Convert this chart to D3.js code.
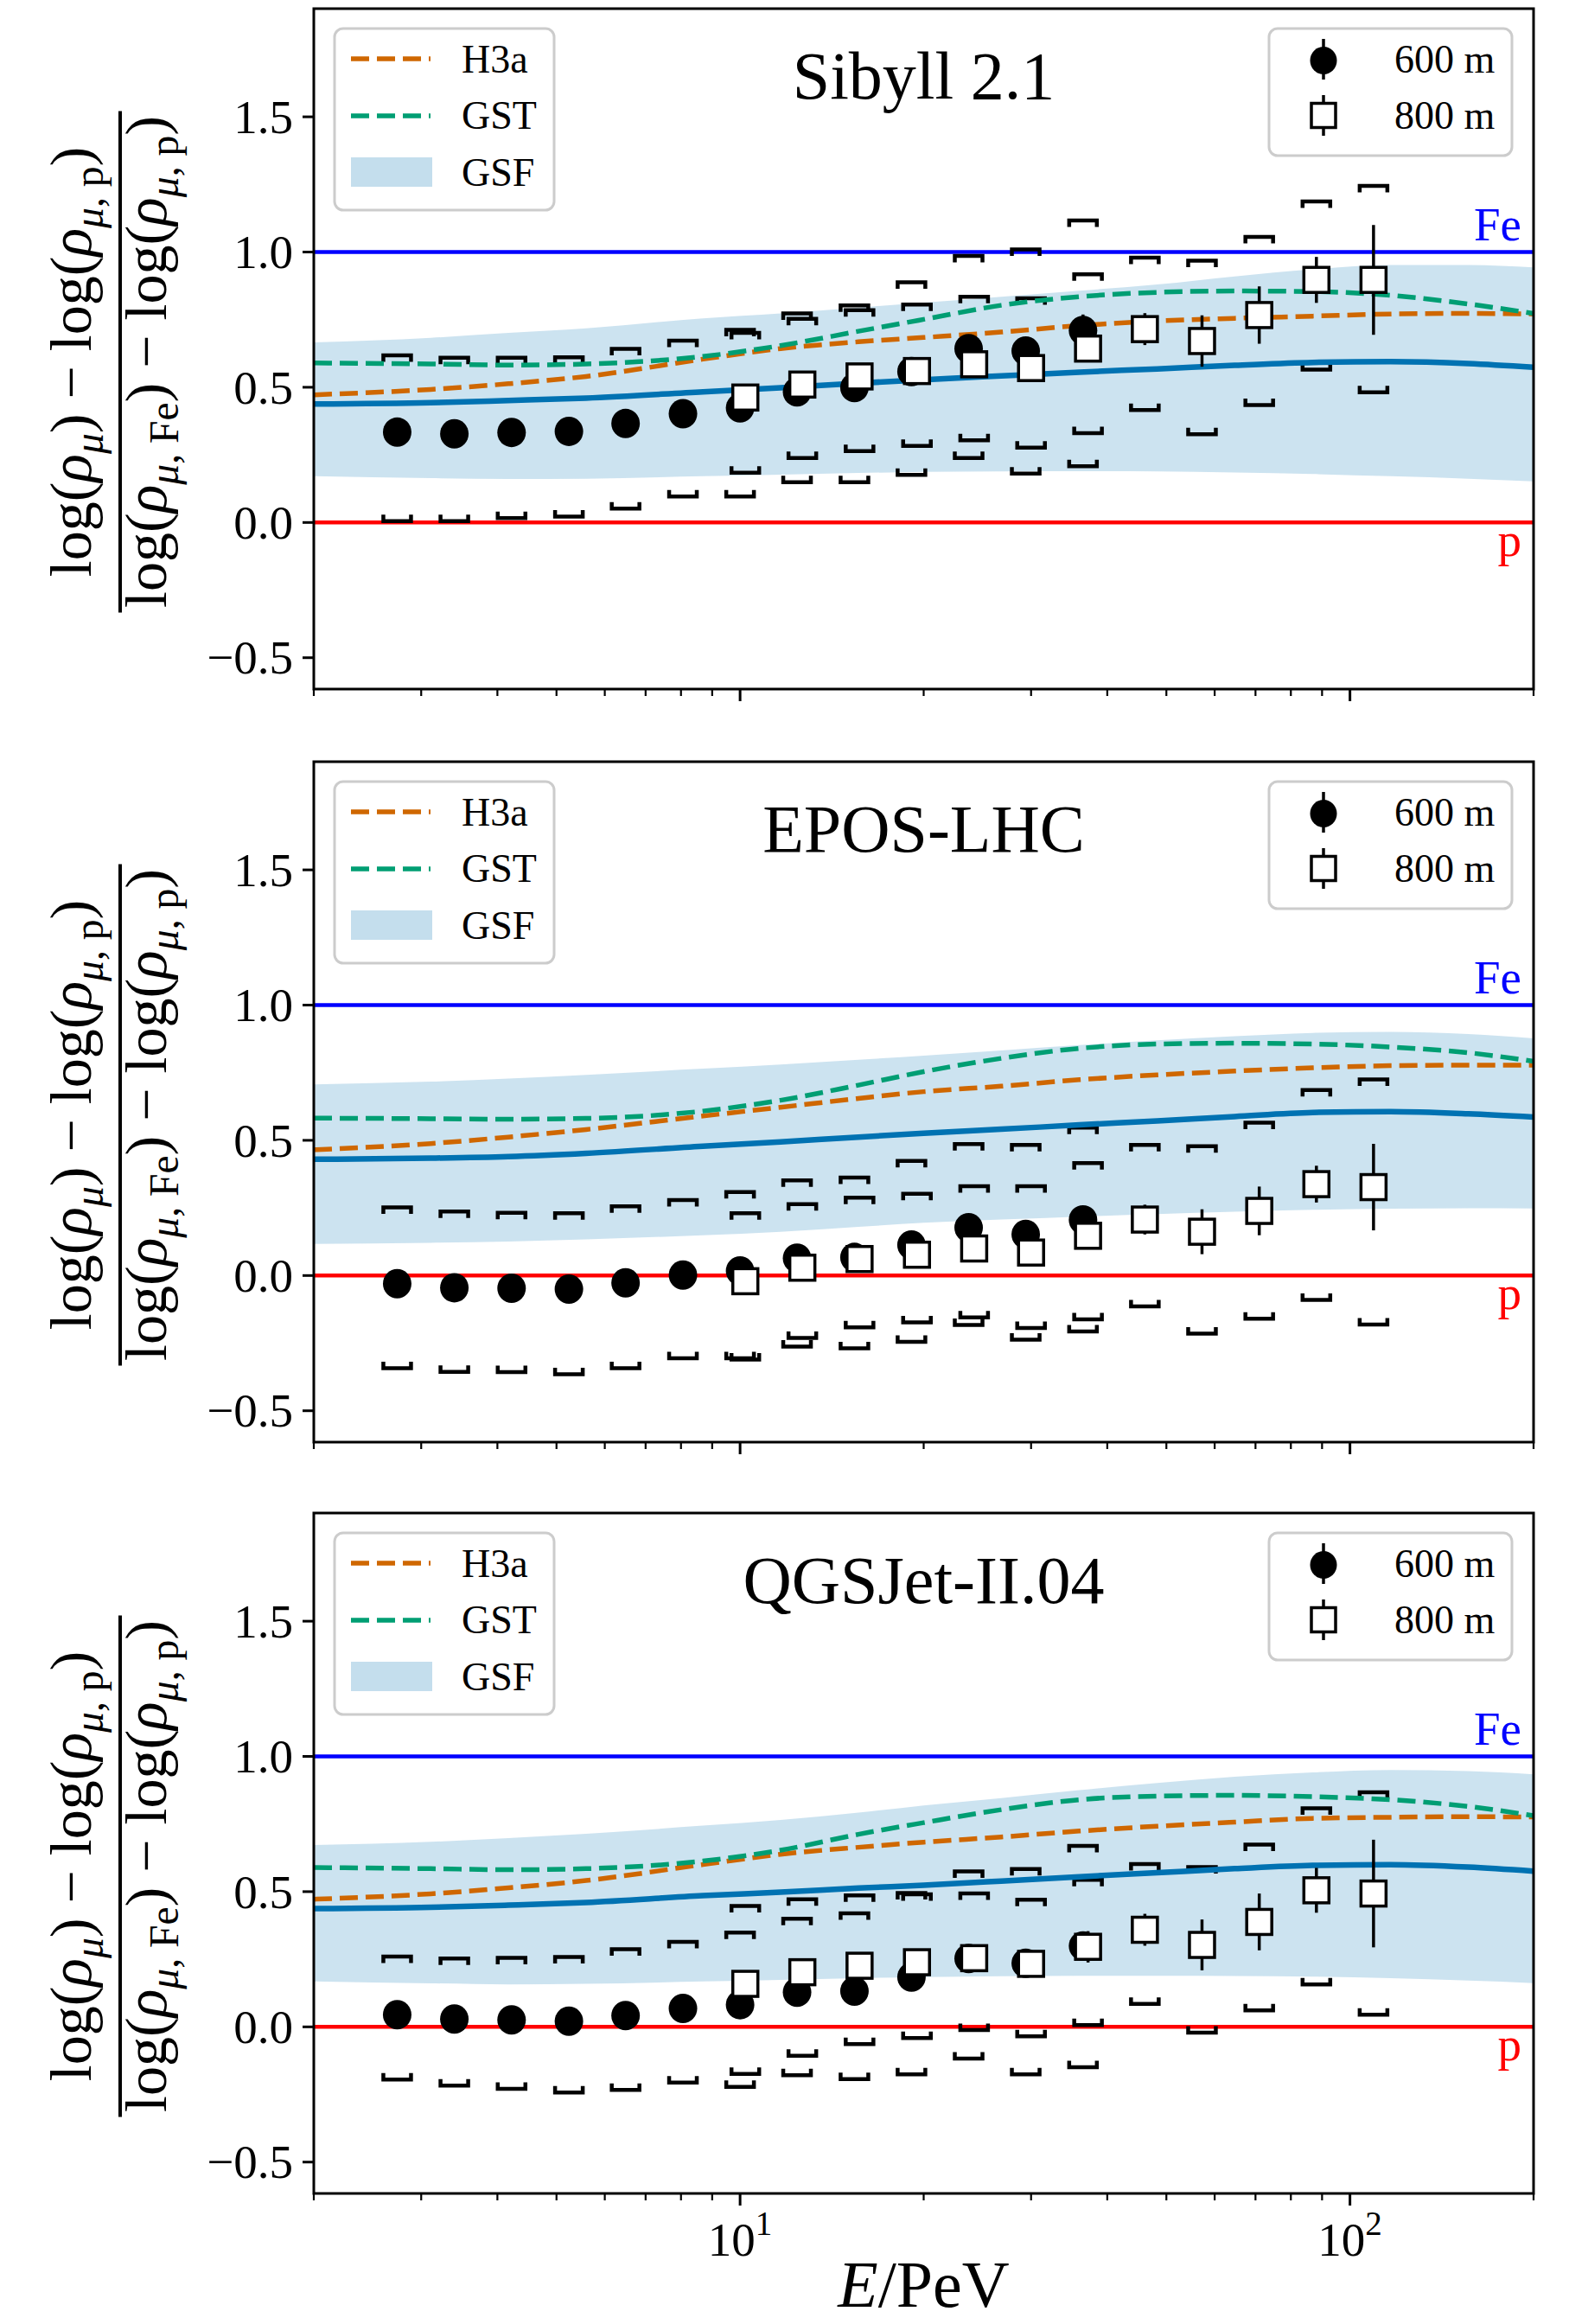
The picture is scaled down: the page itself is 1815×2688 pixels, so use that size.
<!DOCTYPE html>
<html>
<head>
<meta charset="utf-8">
<script src="https://cdn.jsdelivr.net/npm/d3@7"></script>
<style>
  html, body { margin: 0; padding: 0; background: #fff; }
  svg { display: block; }
</style>
</head>
<body>
<script>
// ---------------------------------------------------------------
// Muon-density composition estimator vs. primary energy,
// three hadronic interaction models.
// ---------------------------------------------------------------

// Energies (PeV) of the 600 m and 800 m reconstructions
const energy600 = [2.74, 3.40, 4.22, 5.24, 6.49, 8.06, 10.0, 12.4, 15.4, 19.1, 23.7, 29.4, 36.5];
const energy800 = [10.2, 12.65, 15.7, 19.5, 24.2, 30.0, 37.2, 46.1, 57.2, 71.0, 88.1, 109.3];

// Grid on which the model expectations are tabulated (PeV)
const curveEnergy = [2, 3.11, 4.17, 5.59, 8.69, 11.65, 15.63, 20, 26.8, 36.0, 48.3, 64.7, 86.9, 116.5, 156.3, 200];

// ---- Sibyll 2.1 ----
const sibyll600      = [0.334, 0.328, 0.333, 0.337, 0.366, 0.402, 0.424, 0.483, 0.499, 0.558, 0.643, 0.634, 0.710];
const sibyll600Err   = [0.01, 0.01, 0.01, 0.01, 0.01, 0.012, 0.014, 0.016, 0.02, 0.025, 0.03, 0.035, 0.059];
const sibyll600SysHi = [0.618, 0.609, 0.609, 0.611, 0.642, 0.672, 0.712, 0.773, 0.803, 0.888, 0.986, 1.010, 1.117];
const sibyll600SysLo = [0.005, 0.005, 0.016, 0.022, 0.051, 0.096, 0.096, 0.149, 0.149, 0.176, 0.238, 0.181, 0.208];
const sibyll800      = [0.462, 0.510, 0.540, 0.560, 0.585, 0.571, 0.643, 0.715, 0.671, 0.767, 0.897, 0.897];
const sibyll800Err   = [0.02, 0.02, 0.02, 0.02, 0.03, 0.03, 0.045, 0.059, 0.095, 0.106, 0.085, 0.203];
const sibyll800SysHi = [0.701, 0.753, 0.785, 0.806, 0.835, 0.829, 0.918, 0.979, 0.968, 1.056, 1.187, 1.245];
const sibyll800SysLo = [0.184, 0.238, 0.264, 0.283, 0.304, 0.277, 0.330, 0.416, 0.326, 0.434, 0.565, 0.481];
const sibyllGsfHi    = [0.666, 0.683, 0.701, 0.718, 0.755, 0.773, 0.795, 0.813, 0.835, 0.857, 0.880, 0.910, 0.936, 0.952, 0.952, 0.943];
const sibyllGsfLo    = [0.171, 0.164, 0.161, 0.162, 0.171, 0.177, 0.183, 0.187, 0.189, 0.190, 0.189, 0.185, 0.179, 0.171, 0.162, 0.152];
const sibyllGsf      = [0.438, 0.443, 0.451, 0.460, 0.483, 0.498, 0.515, 0.528, 0.542, 0.556, 0.568, 0.581, 0.592, 0.595, 0.588, 0.574];
const sibyllH3a      = [0.472, 0.492, 0.513, 0.540, 0.604, 0.643, 0.668, 0.684, 0.704, 0.728, 0.745, 0.755, 0.763, 0.771, 0.773, 0.771];
const sibyllGst      = [0.590, 0.586, 0.582, 0.586, 0.614, 0.654, 0.707, 0.751, 0.803, 0.835, 0.851, 0.856, 0.854, 0.840, 0.808, 0.773];

// ---- EPOS-LHC ----
const epos600      = [-0.030, -0.045, -0.047, -0.050, -0.027, 0.002, 0.017, 0.064, 0.067, 0.113, 0.177, 0.152, 0.206];
const epos600Err   = [0.01, 0.01, 0.01, 0.01, 0.01, 0.012, 0.014, 0.016, 0.02, 0.025, 0.03, 0.035, 0.045];
const epos600SysHi = [0.252, 0.237, 0.232, 0.230, 0.256, 0.279, 0.309, 0.352, 0.362, 0.424, 0.486, 0.483, 0.547];
const epos600SysLo = [-0.343, -0.356, -0.357, -0.365, -0.343, -0.306, -0.306, -0.263, -0.269, -0.245, -0.183, -0.237, -0.207];
const epos800      = [-0.021, 0.029, 0.061, 0.077, 0.100, 0.085, 0.147, 0.207, 0.162, 0.239, 0.338, 0.327];
const epos800Err   = [0.02, 0.02, 0.02, 0.02, 0.03, 0.03, 0.045, 0.055, 0.083, 0.09, 0.068, 0.16];
const epos800SysHi = [0.230, 0.264, 0.288, 0.302, 0.330, 0.330, 0.416, 0.483, 0.478, 0.565, 0.686, 0.725];
const epos800SysLo = [-0.311, -0.231, -0.192, -0.173, -0.155, -0.194, -0.162, -0.114, -0.215, -0.160, -0.090, -0.181];
const eposGsfHi    = [0.707, 0.717, 0.728, 0.742, 0.765, 0.780, 0.798, 0.813, 0.832, 0.852, 0.870, 0.885, 0.897, 0.901, 0.893, 0.877];
const eposGsfLo    = [0.117, 0.121, 0.126, 0.134, 0.149, 0.162, 0.180, 0.195, 0.207, 0.218, 0.227, 0.236, 0.243, 0.247, 0.249, 0.248];
const eposGsf      = [0.430, 0.434, 0.440, 0.452, 0.478, 0.494, 0.512, 0.526, 0.541, 0.557, 0.572, 0.588, 0.603, 0.606, 0.598, 0.586];
const eposH3a      = [0.465, 0.488, 0.512, 0.540, 0.590, 0.622, 0.655, 0.680, 0.700, 0.724, 0.742, 0.756, 0.768, 0.776, 0.778, 0.778];
const eposGst      = [0.582, 0.580, 0.578, 0.581, 0.608, 0.648, 0.704, 0.754, 0.803, 0.840, 0.856, 0.859, 0.856, 0.845, 0.824, 0.792];

// ---- QGSJet-II.04 ----
const qgsjet600      = [0.045, 0.029, 0.026, 0.021, 0.042, 0.068, 0.082, 0.128, 0.132, 0.184, 0.253, 0.235, 0.299];
const qgsjet600Err   = [0.01, 0.01, 0.01, 0.01, 0.01, 0.012, 0.014, 0.016, 0.02, 0.025, 0.03, 0.035, 0.045];
const qgsjet600SysHi = [0.260, 0.253, 0.255, 0.258, 0.287, 0.314, 0.349, 0.400, 0.420, 0.495, 0.575, 0.584, 0.669];
const qgsjet600SysLo = [-0.195, -0.217, -0.229, -0.243, -0.233, -0.206, -0.222, -0.179, -0.193, -0.176, -0.117, -0.176, -0.149];
const qgsjet800      = [0.159, 0.202, 0.226, 0.239, 0.254, 0.233, 0.296, 0.359, 0.303, 0.388, 0.505, 0.493];
const qgsjet800Err   = [0.02, 0.02, 0.02, 0.02, 0.03, 0.03, 0.058, 0.059, 0.094, 0.105, 0.083, 0.199];
const qgsjet800SysHi = [0.447, 0.472, 0.486, 0.490, 0.493, 0.470, 0.544, 0.602, 0.591, 0.674, 0.808, 0.867];
const qgsjet800SysLo = [-0.174, -0.107, -0.064, -0.041, -0.012, -0.035, 0.007, 0.085, -0.021, 0.061, 0.157, 0.045];
const qgsjetGsfHi    = [0.672, 0.684, 0.698, 0.714, 0.744, 0.765, 0.792, 0.819, 0.846, 0.875, 0.902, 0.925, 0.941, 0.950, 0.946, 0.934];
const qgsjetGsfLo    = [0.168, 0.161, 0.157, 0.159, 0.168, 0.174, 0.180, 0.184, 0.187, 0.189, 0.189, 0.188, 0.186, 0.180, 0.171, 0.162];
const qgsjetGsf      = [0.437, 0.442, 0.450, 0.460, 0.485, 0.498, 0.513, 0.524, 0.539, 0.555, 0.570, 0.585, 0.597, 0.600, 0.591, 0.576];
const qgsjetH3a      = [0.472, 0.492, 0.514, 0.541, 0.600, 0.638, 0.664, 0.683, 0.702, 0.724, 0.742, 0.757, 0.771, 0.775, 0.777, 0.776];
const qgsjetGst      = [0.589, 0.585, 0.581, 0.585, 0.613, 0.653, 0.712, 0.755, 0.803, 0.840, 0.853, 0.856, 0.851, 0.840, 0.815, 0.781];

// Axis ticks and labels
const yTicks = [-0.5, 0.0, 0.5, 1.0, 1.5];
const xMajorTicks = [10, 100];
const xMajorExponents = ["1", "2"];
const xMinorTicks = [2, 3, 4, 5, 6, 7, 8, 9, 20, 30, 40, 50, 60, 70, 80, 90, 200];
const legendModels = ["H3a", "GST", "GSF"];
const legendData = ["600 m", "800 m"];

const panels = [
  { title: "Sibyll 2.1",
    d600: sibyll600, e600: sibyll600Err, hi600: sibyll600SysHi, lo600: sibyll600SysLo,
    d800: sibyll800, e800: sibyll800Err, hi800: sibyll800SysHi, lo800: sibyll800SysLo,
    gsfHi: sibyllGsfHi, gsfLo: sibyllGsfLo, gsf: sibyllGsf, h3a: sibyllH3a, gst: sibyllGst },
  { title: "EPOS-LHC",
    d600: epos600, e600: epos600Err, hi600: epos600SysHi, lo600: epos600SysLo,
    d800: epos800, e800: epos800Err, hi800: epos800SysHi, lo800: epos800SysLo,
    gsfHi: eposGsfHi, gsfLo: eposGsfLo, gsf: eposGsf, h3a: eposH3a, gst: eposGst },
  { title: "QGSJet-II.04",
    d600: qgsjet600, e600: qgsjet600Err, hi600: qgsjet600SysHi, lo600: qgsjet600SysLo,
    d800: qgsjet800, e800: qgsjet800Err, hi800: qgsjet800SysHi, lo800: qgsjet800SysLo,
    gsfHi: qgsjetGsfHi, gsfLo: qgsjetGsfLo, gsf: qgsjetGsf, h3a: qgsjetH3a, gst: qgsjetGst }
];

// ---------------- layout & style ----------------
const W = 1815, H = 2688;
const axLeft = 363, axRight = 1774, axH = 787;
const panelTops = [10, 881, 1750];
const serif = "'Liberation Serif', 'Times New Roman', serif";
const colH3a = "#cf6700", colGst = "#009E73", colGsf = "#0072B2";
const bandFill = "#0072B2", bandOpacity = 0.2;
const dash = "21,9";

const svg = d3.select("body").append("svg")
  .attr("width", W).attr("height", H)
  .attr("viewBox", `0 0 ${W} ${H}`);
svg.append("rect").attr("width", W).attr("height", H).attr("fill", "#fff");

const x = d3.scaleLog().domain([2, 200]).range([axLeft, axRight]);

// bracket-shaped systematic marker: end ticks point toward the data point
function bracketPath(cx, cy, dir) {
  const hw = 16, tick = 7.5;
  return `M${cx - hw},${cy + dir * tick}L${cx - hw},${cy}L${cx + hw},${cy}L${cx + hw},${cy + dir * tick}`;
}

// y-axis fraction label built from tspans (rotated)
function addFracLabel(g, cx, cy) {
  const fs = 68, sub = 0.7;
  const root = g.append("g").attr("transform", `translate(${cx},${cy}) rotate(-90)`);
  const num = [
    ["log(", "n", 0], ["ρ", "i", 0], ["μ", "i", 1], [")", "n", 0],
    [" − ", "n", 0], ["log(", "n", 0], ["ρ", "i", 0], ["μ", "i", 1], [", p", "n", 1], [")", "n", 0]
  ];
  const den = [
    ["log(", "n", 0], ["ρ", "i", 0], ["μ", "i", 1], [", Fe", "n", 1], [")", "n", 0],
    [" − ", "n", 0], ["log(", "n", 0], ["ρ", "i", 0], ["μ", "i", 1], [", p", "n", 1], [")", "n", 0]
  ];
  function build(tokens, baseline) {
    const t = root.append("text").attr("x", 0).attr("y", baseline)
      .attr("text-anchor", "middle")
      .style("font-family", serif).style("font-size", fs + "px")
      .attr("xml:space", "preserve");
    let level = 0;
    tokens.forEach(([s, st, lv]) => {
      const dy = (lv - level) * fs * 0.2;
      level = lv;
      t.append("tspan").attr("dy", dy)
        .style("font-style", st === "i" ? "italic" : "normal")
        .style("font-size", (lv ? fs * sub : fs) + "px")
        .text(s);
    });
    return t;
  }
  build(num, -34);
  build(den, 53);
  root.append("line").attr("x1", -290).attr("x2", 290).attr("y1", 0).attr("y2", 0)
    .attr("stroke", "#000").attr("stroke-width", 4);
}

panels.forEach((p, i) => {
  const top = panelTops[i];
  const y = d3.scaleLinear().domain([-0.616, 1.9]).range([top + axH, top]);
  const g = svg.append("g");
  const clipId = "clip" + i;
  svg.append("clipPath").attr("id", clipId).append("rect")
    .attr("x", axLeft).attr("y", top).attr("width", axRight - axLeft).attr("height", axH);
  const plot = g.append("g").attr("clip-path", `url(#${clipId})`);

  const bandData = curveEnergy.map((e, k) => ({ e, lo: p.gsfLo[k], hi: p.gsfHi[k] }));
  plot.append("path").datum(bandData)
    .attr("d", d3.area().x(d => x(d.e)).y0(d => y(d.lo)).y1(d => y(d.hi)).curve(d3.curveMonotoneX))
    .attr("fill", bandFill).attr("fill-opacity", bandOpacity);

  // proton / iron reference lines
  plot.append("line").attr("x1", axLeft).attr("x2", axRight).attr("y1", y(1)).attr("y2", y(1))
    .attr("stroke", "#0000ff").attr("stroke-width", 4.5);
  plot.append("line").attr("x1", axLeft).attr("x2", axRight).attr("y1", y(0)).attr("y2", y(0))
    .attr("stroke", "#ff0000").attr("stroke-width", 4.5);

  // systematic brackets
  const brackets = [];
  energy600.forEach((e, k) => { brackets.push([e, p.hi600[k], 1]); brackets.push([e, p.lo600[k], -1]); });
  energy800.forEach((e, k) => { brackets.push([e, p.hi800[k], 1]); brackets.push([e, p.lo800[k], -1]); });
  plot.append("g").selectAll("path").data(brackets).join("path")
    .attr("d", d => bracketPath(x(d[0]), y(d[1]), d[2]))
    .attr("fill", "none").attr("stroke", "#000").attr("stroke-width", 4.5)
    .attr("stroke-linejoin", "miter").attr("stroke-linecap", "butt");

  // model expectations
  const line = d3.line().x((d, k) => x(curveEnergy[k])).y(d => y(d)).curve(d3.curveMonotoneX);
  plot.append("path").datum(p.gsf).attr("d", line)
    .attr("fill", "none").attr("stroke", colGsf).attr("stroke-width", 6.5);
  plot.append("path").datum(p.h3a).attr("d", line)
    .attr("fill", "none").attr("stroke", colH3a).attr("stroke-width", 5.5).attr("stroke-dasharray", dash);
  plot.append("path").datum(p.gst).attr("d", line)
    .attr("fill", "none").attr("stroke", colGst).attr("stroke-width", 5.5).attr("stroke-dasharray", dash);

  // 600 m: error bars + filled circles
  const pts600 = energy600.map((e, k) => ({ e, v: p.d600[k], err: p.e600[k] }));
  const pts800 = energy800.map((e, k) => ({ e, v: p.d800[k], err: p.e800[k] }));
  plot.append("g").selectAll("line").data(pts600).join("line")
    .attr("x1", d => x(d.e)).attr("x2", d => x(d.e))
    .attr("y1", d => y(d.v - d.err)).attr("y2", d => y(d.v + d.err))
    .attr("stroke", "#000").attr("stroke-width", 3.5);
  plot.append("g").selectAll("ellipse").data(pts600).join("ellipse")
    .attr("cx", d => x(d.e)).attr("cy", d => y(d.v)).attr("rx", 16.5).attr("ry", 17).attr("fill", "#000");

  // 800 m: error bars + open squares
  plot.append("g").selectAll("line").data(pts800).join("line")
    .attr("x1", d => x(d.e)).attr("x2", d => x(d.e))
    .attr("y1", d => y(d.v - d.err)).attr("y2", d => y(d.v + d.err))
    .attr("stroke", "#000").attr("stroke-width", 3.5);
  plot.append("g").selectAll("rect").data(pts800).join("rect")
    .attr("x", d => x(d.e) - 14.5).attr("y", d => y(d.v) - 14.5)
    .attr("width", 29).attr("height", 29)
    .attr("fill", "#fff").attr("stroke", "#000").attr("stroke-width", 3.5);

  // Fe / p annotations
  g.append("text").attr("x", 1760).attr("y", y(1) - 14).attr("text-anchor", "end")
    .style("font-family", serif).style("font-size", "55px").attr("fill", "#0000ff").text("Fe");
  g.append("text").attr("x", 1760).attr("y", y(0) + 39).attr("text-anchor", "end")
    .style("font-family", serif).style("font-size", "55px").attr("fill", "#ff0000").text("p");

  // title
  g.append("text").attr("x", (axLeft + axRight) / 2).attr("y", top + 104).attr("text-anchor", "middle")
    .style("font-family", serif).style("font-size", "78px").text(p.title);

  // left legend (model expectations)
  const lg = g.append("g").attr("transform", `translate(0,${top})`);
  lg.append("rect").attr("x", 387).attr("y", 23).attr("width", 254).attr("height", 210)
    .attr("rx", 10).attr("fill", "#fff").attr("fill-opacity", 0.8)
    .attr("stroke", "#cccccc").attr("stroke-width", 3);
  [[colH3a, 58], [colGst, 124]].forEach(([c, yy]) => {
    lg.append("line").attr("x1", 406).attr("x2", 498).attr("y1", yy).attr("y2", yy)
      .attr("stroke", c).attr("stroke-width", 5.5).attr("stroke-dasharray", dash);
  });
  lg.append("rect").attr("x", 406).attr("y", 172).attr("width", 94).attr("height", 34)
    .attr("fill", bandFill).attr("fill-opacity", bandOpacity + 0.03);
  legendModels.forEach((s, k) => {
    lg.append("text").attr("x", 534).attr("y", [74, 139, 205][k])
      .style("font-family", serif).style("font-size", "46px").text(s);
  });

  // right legend (data)
  lg.append("rect").attr("x", 1468).attr("y", 23).attr("width", 281).attr("height", 147)
    .attr("rx", 10).attr("fill", "#fff").attr("fill-opacity", 0.8)
    .attr("stroke", "#cccccc").attr("stroke-width", 3);
  lg.append("line").attr("x1", 1531).attr("x2", 1531).attr("y1", 35).attr("y2", 82)
    .attr("stroke", "#000").attr("stroke-width", 3.5);
  lg.append("ellipse").attr("cx", 1531).attr("cy", 60).attr("rx", 15.5).attr("ry", 16).attr("fill", "#000");
  lg.append("line").attr("x1", 1531).attr("x2", 1531).attr("y1", 100).attr("y2", 147)
    .attr("stroke", "#000").attr("stroke-width", 3.5);
  lg.append("rect").attr("x", 1517).attr("y", 109.5).attr("width", 28).attr("height", 28)
    .attr("fill", "#fff").attr("stroke", "#000").attr("stroke-width", 3.5);
  legendData.forEach((s, k) => {
    lg.append("text").attr("x", 1613).attr("y", [74, 139][k])
      .style("font-family", serif).style("font-size", "46px").text(s);
  });

  // y axis ticks
  const ya = g.append("g");
  yTicks.forEach(t => {
    ya.append("line").attr("x1", axLeft - 13).attr("x2", axLeft).attr("y1", y(t)).attr("y2", y(t))
      .attr("stroke", "#000").attr("stroke-width", 3);
    ya.append("text").attr("x", axLeft - 24).attr("y", y(t)).attr("dy", "0.34em")
      .attr("text-anchor", "end").style("font-family", serif).style("font-size", "55px")
      .text(t < 0 ? "−" + Math.abs(t).toFixed(1) : t.toFixed(1));
  });

  // x axis ticks
  const xb = top + axH;
  xMajorTicks.forEach((t, k) => {
    g.append("line").attr("x1", x(t)).attr("x2", x(t)).attr("y1", xb).attr("y2", xb + 14)
      .attr("stroke", "#000").attr("stroke-width", 3);
    if (i === panels.length - 1) {
      const tx = g.append("text").attr("x", x(t)).attr("y", xb + 72).attr("text-anchor", "middle")
        .style("font-family", serif).style("font-size", "55px");
      tx.append("tspan").text("10");
      tx.append("tspan").attr("dy", -24).style("font-size", "39px").text(xMajorExponents[k]);
    }
  });
  xMinorTicks.forEach(t => {
    g.append("line").attr("x1", x(t)).attr("x2", x(t)).attr("y1", xb).attr("y2", xb + 8)
      .attr("stroke", "#000").attr("stroke-width", 2.2);
  });

  // frame
  g.append("rect").attr("x", axLeft).attr("y", top).attr("width", axRight - axLeft).attr("height", axH)
    .attr("fill", "none").attr("stroke", "#000").attr("stroke-width", 3);

  addFracLabel(g, 139, top + axH / 2 + 15);
});

// x-axis title
const xt = svg.append("text").attr("x", (axLeft + axRight) / 2).attr("y", 2668).attr("text-anchor", "middle")
  .style("font-family", serif).style("font-size", "76px");
xt.append("tspan").style("font-style", "italic").text("E");
xt.append("tspan").text("/PeV");
</script>
</body>
</html>
